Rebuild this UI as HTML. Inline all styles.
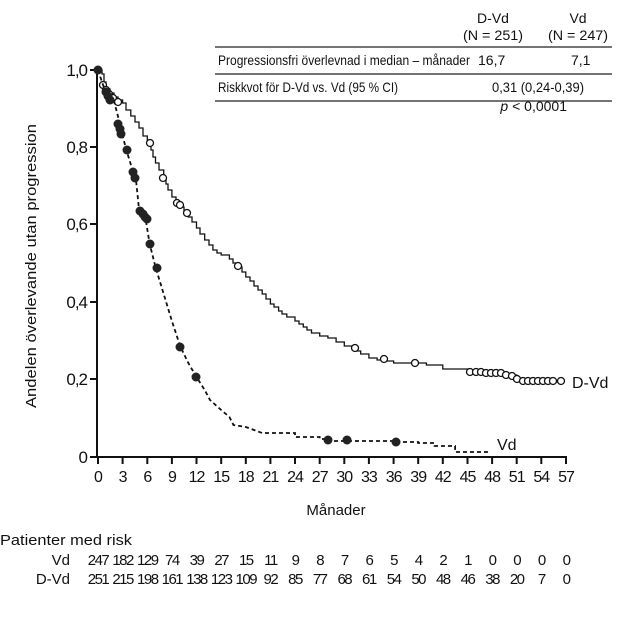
<!DOCTYPE html>
<html><head><meta charset="utf-8"><style>
html,body{margin:0;padding:0;background:#fff}
svg{display:block;font-family:"Liberation Sans",sans-serif}
text{fill:#111}
.num{letter-spacing:-1px}
</style></head><body>
<svg width="630" height="623" viewBox="0 0 630 623">
<g font-size="14">
<text x="493" y="23" text-anchor="middle">D-Vd</text>
<text x="493" y="40" text-anchor="middle" textLength="60" lengthAdjust="spacingAndGlyphs">(N = 251)</text>
<text x="578" y="23" text-anchor="middle">Vd</text>
<text x="578" y="40" text-anchor="middle" textLength="60" lengthAdjust="spacingAndGlyphs">(N = 247)</text>
<text x="218" y="65" textLength="252" lengthAdjust="spacingAndGlyphs">Progressionsfri överlevnad i median – månader</text>
<text x="478" y="65">16,7</text>
<text x="571" y="65">7,1</text>
<text x="218" y="92" textLength="180" lengthAdjust="spacingAndGlyphs">Riskkvot för D-Vd vs. Vd (95 % CI)</text>
<text x="584" y="92" text-anchor="end" textLength="92" lengthAdjust="spacingAndGlyphs">0,31 (0,24-0,39)</text>
<text x="567" y="111" text-anchor="end"><tspan font-style="italic">p</tspan> &lt; 0,0001</text>
</g>
<g stroke="#222" stroke-width="1.3">
<line x1="215" y1="47" x2="612" y2="47"/><line x1="215" y1="74" x2="612" y2="74"/><line x1="215" y1="101" x2="612" y2="101"/>
</g>
<g stroke="#111" stroke-width="2" fill="none">
<line x1="97" y1="68" x2="97" y2="457"/>
<line x1="96" y1="457" x2="567" y2="457"/>
<line x1="90" y1="70" x2="97" y2="70"/><line x1="90" y1="147" x2="97" y2="147"/><line x1="90" y1="224" x2="97" y2="224"/><line x1="90" y1="302" x2="97" y2="302"/><line x1="90" y1="379" x2="97" y2="379"/><line x1="90" y1="457" x2="97" y2="457"/>
<line x1="98" y1="457" x2="98" y2="464"/><line x1="122.6" y1="457" x2="122.6" y2="464"/><line x1="147.3" y1="457" x2="147.3" y2="464"/><line x1="171.9" y1="457" x2="171.9" y2="464"/><line x1="196.5" y1="457" x2="196.5" y2="464"/><line x1="221.2" y1="457" x2="221.2" y2="464"/><line x1="245.8" y1="457" x2="245.8" y2="464"/><line x1="270.4" y1="457" x2="270.4" y2="464"/><line x1="295" y1="457" x2="295" y2="464"/><line x1="319.7" y1="457" x2="319.7" y2="464"/><line x1="344.3" y1="457" x2="344.3" y2="464"/><line x1="368.9" y1="457" x2="368.9" y2="464"/><line x1="393.6" y1="457" x2="393.6" y2="464"/><line x1="418.2" y1="457" x2="418.2" y2="464"/><line x1="442.8" y1="457" x2="442.8" y2="464"/><line x1="467.5" y1="457" x2="467.5" y2="464"/><line x1="492.1" y1="457" x2="492.1" y2="464"/><line x1="516.7" y1="457" x2="516.7" y2="464"/><line x1="541.3" y1="457" x2="541.3" y2="464"/><line x1="566" y1="457" x2="566" y2="464"/>
</g>
<g font-size="17" text-anchor="end" class="num">
<text x="87" y="76">1,0</text><text x="87" y="153">0,8</text><text x="87" y="230">0,6</text><text x="87" y="308">0,4</text><text x="87" y="385">0,2</text><text x="87" y="463">0</text>
</g>
<g font-size="16" text-anchor="middle" class="num">
<text x="98" y="482">0</text><text x="122.6" y="482">3</text><text x="147.3" y="482">6</text><text x="171.9" y="482">9</text><text x="196.5" y="482">12</text><text x="221.2" y="482">15</text><text x="245.8" y="482">18</text><text x="270.4" y="482">21</text><text x="295" y="482">24</text><text x="319.7" y="482">27</text><text x="344.3" y="482">30</text><text x="368.9" y="482">33</text><text x="393.6" y="482">36</text><text x="418.2" y="482">39</text><text x="442.8" y="482">42</text><text x="467.5" y="482">45</text><text x="492.1" y="482">48</text><text x="516.7" y="482">51</text><text x="541.3" y="482">54</text><text x="566" y="482">57</text>
</g>
<text x="336" y="515" font-size="15" text-anchor="middle">Månader</text>
<text transform="translate(36,266) rotate(-90)" font-size="15" text-anchor="middle" textLength="284" lengthAdjust="spacingAndGlyphs">Andelen överlevande utan progression</text>
<path fill="none" stroke="#111" stroke-width="1.3" d="M98,70 H102 V74 H104 V82 H106 V89 H110 V93 H114 V97 H118 V100 H122.6 V103 H126 V110 H130.8 V116 H135 V122 H139 V128 H143 V136 H147.3 V143 H151 V150 H153 V157 H155.5 V163 H159 V170 H163.7 V178 H166 V184 H168 V190 H171.9 V197 H176 V203 H180.1 V207 H184 V212 H188.3 V217 H192 V222 H196.5 V228 H200 V234 H204.7 V240 H209 V245 H212.9 V250 H217 V253 H221.2 V255 H229.4 V259 H233 V263 H237.6 V267 H242 V272 H245.8 V277 H250 V281 H254 V286 H258 V290 H262.2 V294 H266 V299 H270.4 V304 H274 V307 H278.6 V311 H282 V314 H286.8 V317 H295 V321 H299 V324 H303.3 V327 H307 V330 H311.5 V333 H319.7 V336 H327.9 V338 H336.1 V342 H344.3 V346 H352.5 V348 H356 V351 H360.7 V354 H368.9 V358 H377.1 V360 H385.4 V361 H393.6 V363 H426.4 V365 H442.8 V369 H467.5 V371 H500.3 V373 H508.5 V375 H516.7 V379 H524.9 V382 H561"/>
<g fill="#fff" stroke="#111" stroke-width="1.3">
<circle cx="103" cy="85" r="3.5"/><circle cx="106" cy="90" r="3.5"/><circle cx="109" cy="94" r="3.5"/><circle cx="113" cy="98" r="3.5"/><circle cx="118" cy="102" r="3.5"/><circle cx="150" cy="143" r="3.5"/><circle cx="163" cy="178" r="3.5"/><circle cx="177" cy="203" r="3.5"/><circle cx="180" cy="205" r="3.5"/><circle cx="187" cy="213" r="3.5"/><circle cx="238" cy="266" r="3.5"/><circle cx="355" cy="348" r="3.5"/><circle cx="384" cy="359" r="3.5"/><circle cx="415" cy="363" r="3.5"/><circle cx="470" cy="372" r="3.5"/><circle cx="476" cy="372" r="3.5"/><circle cx="481" cy="372" r="3.5"/><circle cx="486" cy="373" r="3.5"/><circle cx="491" cy="373" r="3.5"/><circle cx="496" cy="373" r="3.5"/><circle cx="501" cy="373" r="3.5"/><circle cx="506" cy="375" r="3.5"/><circle cx="512" cy="376" r="3.5"/><circle cx="517" cy="379" r="3.5"/><circle cx="523" cy="381" r="3.5"/><circle cx="528" cy="381" r="3.5"/><circle cx="533" cy="381" r="3.5"/><circle cx="538" cy="381" r="3.5"/><circle cx="543" cy="381" r="3.5"/><circle cx="548" cy="381" r="3.5"/><circle cx="553" cy="381" r="3.5"/><circle cx="561" cy="381" r="3.5"/>
</g>
<text x="572" y="388" font-size="16">D-Vd</text>
<path fill="none" stroke="#111" stroke-width="1.8" stroke-dasharray="4,3" d="M98,70 L102,82 L106,93 L114,101 L120,124 L122.6,136 L126.7,151 L132.5,170 L135.8,178 L139,209 L145.6,219 L149.7,244 L155.5,267 L163.7,294 L171.9,321 L180.1,346 L188.3,363 L196.5,377 L204.7,390 L210,400 L221.2,410 L229.4,417 L233.5,425 L245.8,427 L262.2,433 H295 V437 H319.7 V439 H327.9 V441 H393.6 V442 H418.2 V443 H434.6 V446 H455.1 V452 H488"/>
<g fill="#222">
<circle cx="98" cy="70" r="4.5"/><circle cx="106" cy="92" r="4.5"/><circle cx="108" cy="96" r="4.5"/><circle cx="110" cy="100" r="4.5"/><circle cx="118" cy="124" r="4.5"/><circle cx="120" cy="129" r="4.5"/><circle cx="121" cy="134" r="4.5"/><circle cx="127" cy="150" r="4.5"/><circle cx="133" cy="172" r="4.5"/><circle cx="135" cy="178" r="4.5"/><circle cx="140" cy="211" r="4.5"/><circle cx="143" cy="214" r="4.5"/><circle cx="145" cy="217" r="4.5"/><circle cx="147" cy="219" r="4.5"/><circle cx="150" cy="244" r="4.5"/><circle cx="157" cy="268" r="4.5"/><circle cx="180" cy="347" r="4.5"/><circle cx="196" cy="377" r="4.5"/><circle cx="328" cy="440" r="4.5"/><circle cx="347" cy="440" r="4.5"/><circle cx="396" cy="442" r="4.5"/>
</g>
<text x="497" y="450" font-size="16">Vd</text>
<text x="0" y="545" font-size="15" textLength="132" lengthAdjust="spacingAndGlyphs">Patienter med risk</text>
<g font-size="15" text-anchor="end"><text x="70" y="565">Vd</text><text x="70" y="584">D-Vd</text></g>
<g font-size="15" text-anchor="middle" class="num" style="letter-spacing:-1.5px">
<text y="565"><tspan x="98">247</tspan><tspan x="122.6">182</tspan><tspan x="147.3">129</tspan><tspan x="171.9">74</tspan><tspan x="196.5">39</tspan><tspan x="221.2">27</tspan><tspan x="245.8">15</tspan><tspan x="270.4">11</tspan><tspan x="295">9</tspan><tspan x="319.7">8</tspan><tspan x="344.3">7</tspan><tspan x="368.9">6</tspan><tspan x="393.6">5</tspan><tspan x="418.2">4</tspan><tspan x="442.8">2</tspan><tspan x="467.5">1</tspan><tspan x="492.1">0</tspan><tspan x="516.7">0</tspan><tspan x="541.3">0</tspan><tspan x="566">0</tspan></text>
<text y="584"><tspan x="98">251</tspan><tspan x="122.6">215</tspan><tspan x="147.3">198</tspan><tspan x="171.9">161</tspan><tspan x="196.5">138</tspan><tspan x="221.2">123</tspan><tspan x="245.8">109</tspan><tspan x="270.4">92</tspan><tspan x="295">85</tspan><tspan x="319.7">77</tspan><tspan x="344.3">68</tspan><tspan x="368.9">61</tspan><tspan x="393.6">54</tspan><tspan x="418.2">50</tspan><tspan x="442.8">48</tspan><tspan x="467.5">46</tspan><tspan x="492.1">38</tspan><tspan x="516.7">20</tspan><tspan x="541.3">7</tspan><tspan x="566">0</tspan></text>
</g>
</svg>
</body></html>
